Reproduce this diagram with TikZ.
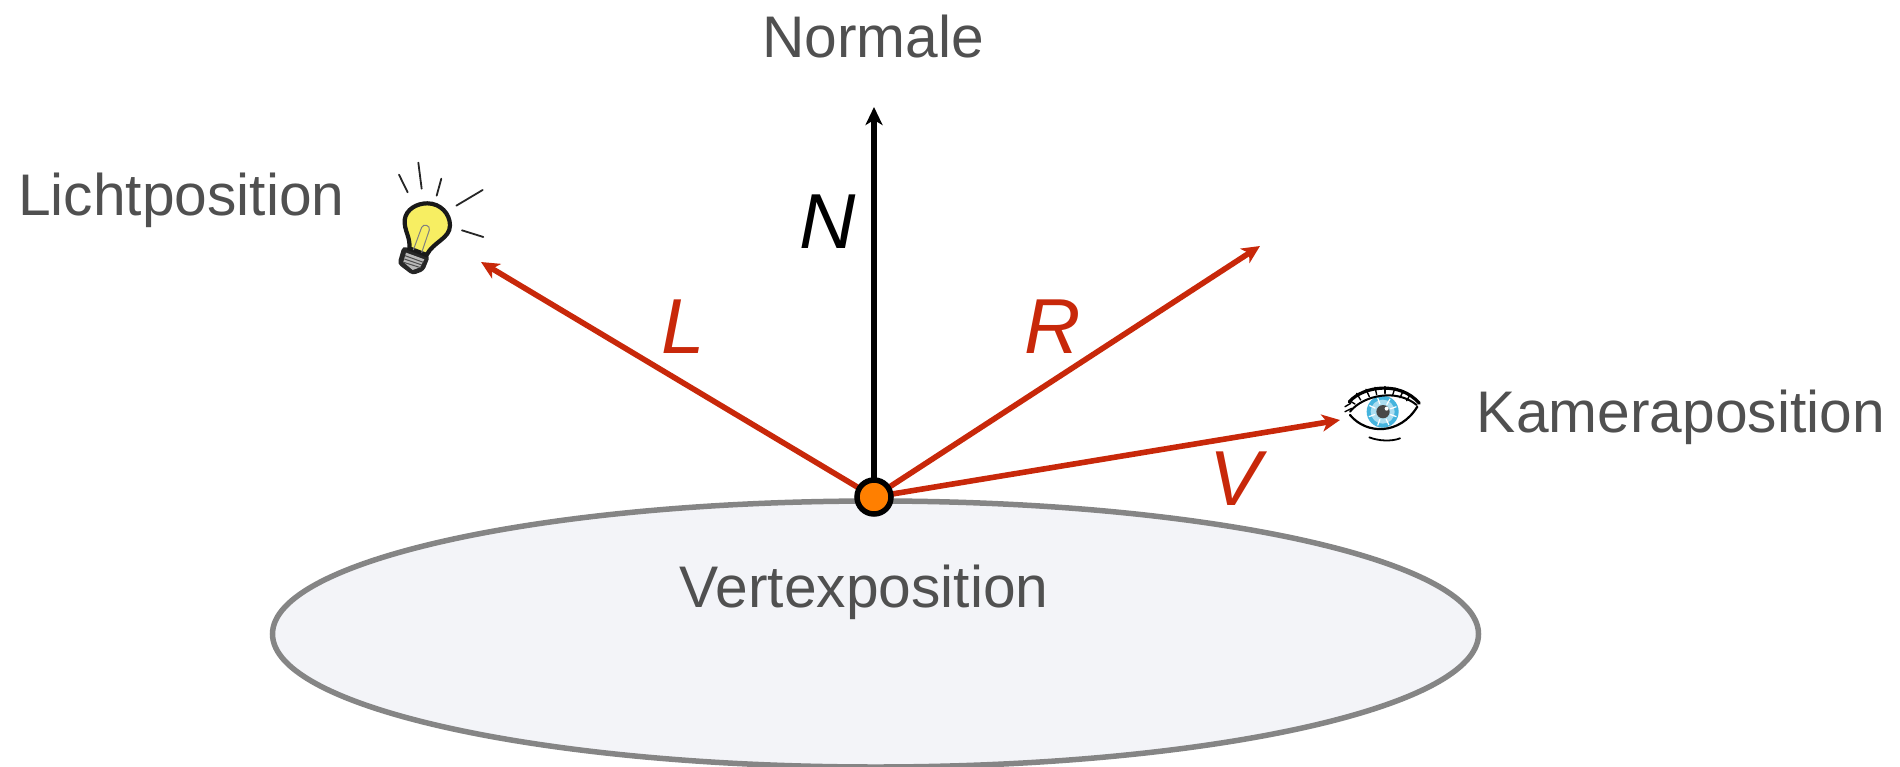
\documentclass[tikz,border=0pt]{standalone}
\usepackage{fontspec}
\setmainfont{Liberation Sans}
\usetikzlibrary{arrows.meta,shapes.geometric}
\definecolor{vred}{HTML}{C8280A}
\definecolor{txtgrey}{HTML}{505050}
\definecolor{rimgrey}{HTML}{858585}
\definecolor{discfill}{HTML}{F3F4F8}
\definecolor{dotor}{HTML}{FF7F00}
\definecolor{bulby}{HTML}{F7EE62}
\definecolor{irisb}{HTML}{45B4DE}
\tikzset{
  lab/.style={text=txtgrey,inner sep=0pt,font=\fontsize{58.7}{61}\selectfont},
  vlab/.style={inner sep=0pt,font=\fontsize{78}{80}\selectfont\itshape},
  vec/.style={draw=vred,line width=5.6pt,-{Stealth[length=18pt,width=17pt,inset=5pt]}},
  nvec/.style={draw=black,line width=5.2pt,-{Stealth[length=18pt,width=17pt,inset=5pt]}},
  ray/.style={draw=black!85,line width=1.8pt,line cap=round},
}
\begin{document}
\begin{tikzpicture}[x=1pt,y=-1pt]
\useasboundingbox (0,0) rectangle (1900,766);
% disc
\node[ellipse,draw=rimgrey,fill=discfill,line width=5.5pt,minimum width=1206pt,minimum height=266pt,inner sep=0pt] (disc) at (875.5,634) {};
% free ends
\coordinate (ltip) at (481,262);
\coordinate (rtip) at (1260,246);
\coordinate (vtip) at (1340,420);
\coordinate (ntip) at (874,107);
\coordinate (vc) at (874,497);
% vectors
\draw[vec] (vc) -- (ltip);
\draw[vec] (vc) -- (rtip);
\draw[vec] (vc) -- (vtip);
\draw[nvec] (vc) -- (ntip);
\node[circle,draw=black,fill=dotor,line width=5.5pt,minimum size=34pt,inner sep=0pt] (vertex) at (vc) {};
% labels
\node[lab] (normale) at (873,37) {Normale};
\node[lab,anchor=west] (licht) at (18,200) {Lichtposition};
\node[lab,anchor=east] (kamera) at (1885,417) {Kameraposition};
\node[lab] (vpos) at (864,592) {Vertexposition};
\node[vlab] (nl) at (828,222) {N};
\node[vlab,text=vred] (ll) at (683,327) {L};
\node[vlab,text=vred] (rl) at (1053,327) {R};
\node[vlab,text=vred] (vl) at (1235,479) {V};
% bulb
\begin{scope}[shift={(370,140)},x=0.3333pt,y=-0.3333pt]
  \draw[ray] (87,104) -- (113,157);
  \draw[ray] (145,68) -- (155,146);
  \draw[ray] (214,116) -- (200,167);
  \draw[ray] (338,150) -- (259,197);
  \draw[ray] (276,271) -- (340,291);
  \draw[fill=black!85,draw=black!85,line width=2pt,rounded corners=3pt] (100,322) -- (176,350) -- (160,390) -- (128,402) -- (86,370) -- cycle;
  \fill[black!28] (108,338) -- (163,358) -- (150,382) -- (128,390) -- (100,366) -- cycle;
  \foreach \t in {0,1,2}{\draw[black!70,line width=1pt] (105-\t*2,347+\t*10) -- (160-\t*4,367+\t*8);}
  \draw[fill=bulby,draw=black!90,line width=4.2pt]
    (118,325) .. controls (122,292) and (102,272) .. (104,240)
    .. controls (108,208) and (140,190) .. (172,190)
    .. controls (212,190) and (240,222) .. (240,256)
    .. controls (240,296) and (190,305) .. (170,345) -- cycle;
  \draw[draw=black!50,line width=1pt] (130,330) -- (155,262) .. controls (160,250) and (182,256) .. (178,270) -- (155,338);
\end{scope}
% eye
\begin{scope}[shift={(1310,360)},x=0.3333pt,y=-0.3333pt]
  \fill[white] (120,165) .. controls (160,90) and (280,90) .. (322,140) .. controls (280,210) and (170,225) .. (120,165);
  \fill[irisb] (218,155) circle (48);
  \fill[white!55!irisb] (218,155) circle (36);
  \foreach \a in {20,65,110,160,205,250,300,340}{\draw[white,line width=1.2pt] (218,155) ++(\a:24) -- ++(\a:20);}
  \fill[black!72] (219,155) circle (20);
  \fill[white] (230,146) circle (6);
  \draw[black,line width=2.2pt,line cap=round] (120,165) .. controls (170,225) and (270,225) .. (322,140);
  \draw[black,line width=2pt,line cap=round] (120,155) .. controls (160,105) and (260,85) .. (320,135);
  \draw[black,line width=3.2pt,line cap=round] (118,125) .. controls (160,78) and (270,62) .. (328,130);
  \foreach \xa/\ya/\xb/\yb in {105/155/125/145,105/140/122/130,118/122/135/132,140/100/152/120,168/88/178/110,195/82/200/104,225/80/225/100,255/84/248/105,280/92/270/113,300/105/290/122}{\draw[black,line width=1.4pt,line cap=round] (\xa,\ya) -- (\xb,\yb);}
  \draw[black,line width=1.8pt,line cap=round] (178,232) .. controls (205,243) and (245,245) .. (270,235);
\end{scope}
\end{tikzpicture}
\end{document}
